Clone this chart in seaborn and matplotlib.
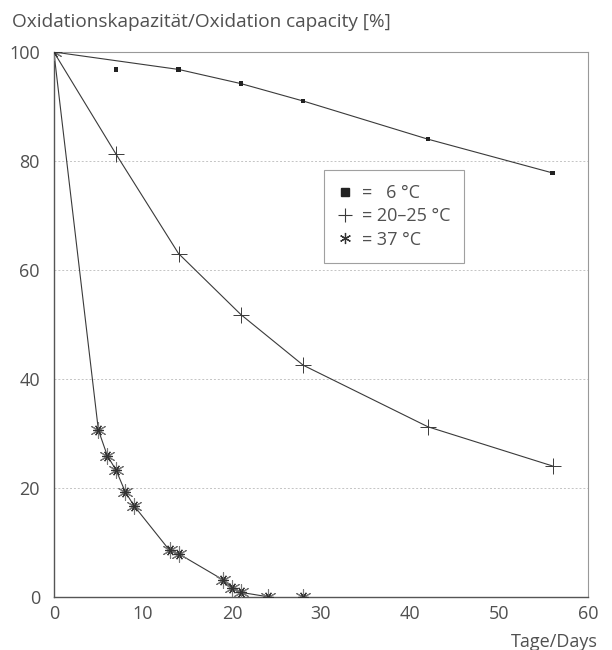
import pandas as pd
import numpy as np
import seaborn as sns
import matplotlib.pyplot as plt
from matplotlib.lines import Line2D

days_6 = [0, 7, 14, 21, 28, 42, 56]
cap_6 = [100, 96.8, 96.8, 94.2, 91.0, 84.0, 77.8]
# the 6 degC curve skips the day-7 point
curve_days_6 = [0, 14, 21, 28, 42, 56]
curve_cap_6 = [100, 96.8, 94.2, 91.0, 84.0, 77.8]

days_20 = [0, 7, 14, 21, 28, 42, 56]
cap_20 = [100, 81.2, 63.0, 51.8, 42.5, 31.2, 24.0]

days_37 = [0, 5, 6, 7, 8, 9, 13, 14, 19, 20, 21, 24, 28]
cap_37 = [100, 30.6, 25.9, 23.2, 19.3, 16.7, 8.5, 7.9, 3.1, 1.6, 0.8, 0, 0]
curve_days_37 = [0, 5, 6, 7, 8, 9, 13, 14, 19, 20, 21, 24]
curve_cap_37 = [100, 30.6, 25.9, 23.2, 19.3, 16.7, 8.5, 7.9, 3.1, 1.6, 0.8, 0]

legend_labels = ['=   6 °C', '= 20–25 °C', '= 37 °C']
x_ticks = [0, 10, 20, 30, 40, 50, 60]
y_ticks = [0, 20, 40, 60, 80, 100]

sns.set_style('white')
plt.rcParams['font.family'] = ['Open Sans', 'DejaVu Sans']

ink = '#3a3a3a'
txt = '#505050'

fig = plt.figure(figsize=(6.12, 6.5), dpi=100)
ax = fig.add_axes([0.088, 0.082, 0.873, 0.838])

lines = pd.DataFrame({
    'day': curve_days_6 + days_20 + curve_days_37,
    'cap': curve_cap_6 + cap_20 + curve_cap_37,
    'series': ['6'] * len(curve_days_6) + ['20'] * len(days_20) + ['37'] * len(curve_days_37),
})
sns.lineplot(data=lines, x='day', y='cap', hue='series', sort=False,
             palette={'6': ink, '20': ink, '37': ink}, linewidth=0.8,
             legend=False, ax=ax)

pts6 = pd.DataFrame({'day': days_6, 'cap': cap_6})
pts20 = pd.DataFrame({'day': days_20, 'cap': cap_20})
pts37 = pd.DataFrame({'day': days_37, 'cap': cap_37})
sns.scatterplot(data=pts6, x='day', y='cap', marker='s', s=10, color='#222222',
                edgecolor='none', ax=ax, zorder=3)
sns.scatterplot(data=pts20, x='day', y='cap', marker='+', s=120, color=ink,
                linewidth=0.7, ax=ax, zorder=3)
sns.scatterplot(data=pts37, x='day', y='cap', marker=(6, 2, 0), s=130, color='#777777',
                linewidth=0.8, ax=ax, zorder=3)
sns.scatterplot(data=pts37, x='day', y='cap', marker=(6, 2, 30), s=50, color='#333333',
                linewidth=0.9, ax=ax, zorder=3)

ax.set_xlim(0, 60)
ax.set_ylim(0, 100)
ax.set_xticks(x_ticks)
ax.set_yticks(y_ticks)
ax.set_xlabel('')
ax.set_ylabel('')
ax.tick_params(axis='x', direction='in', length=5, width=0.8, color='#777777',
               labelsize=13, labelcolor=txt, pad=6)
ax.tick_params(axis='y', length=0, labelsize=13, labelcolor=txt, pad=10)
for y in y_ticks[1:-1]:
    ax.axhline(y, color='#c4c4c4', linewidth=0.7, linestyle=(0, (2, 2)), zorder=0)

for side in ['left', 'bottom']:
    ax.spines[side].set_color('#555555')
    ax.spines[side].set_linewidth(1.0)
for side in ['top', 'right']:
    ax.spines[side].set_color('#999999')
    ax.spines[side].set_linewidth(0.8)

fig.text(0.02, 0.966, 'Oxidationskapazität/Oxidation capacity [%]',
         fontsize=13.7, color=txt, ha='left', va='center')
fig.text(0.976, 0.012, 'Tage/Days', fontsize=13, color=txt, ha='right', va='center')

handles = [
    Line2D([], [], linestyle='none', marker='s', markersize=6, color='#222222'),
    Line2D([], [], linestyle='none', marker='+', markersize=10, color=ink, markeredgewidth=0.8),
    Line2D([], [], linestyle='none', marker=(6, 2, 0), markersize=8, color='#333333',
           markeredgewidth=0.9),
]
leg = ax.legend(handles, legend_labels, loc='upper left', bbox_to_anchor=(0.488, 0.80),
                frameon=True, fancybox=False, fontsize=13, handlelength=0.8,
                handletextpad=0.5, borderpad=0.8, labelspacing=0.28)
leg.get_frame().set_edgecolor('#888888')
leg.get_frame().set_linewidth(0.8)
for t in leg.get_texts():
    t.set_color(txt)

fig.savefig('out.png', dpi=100)
